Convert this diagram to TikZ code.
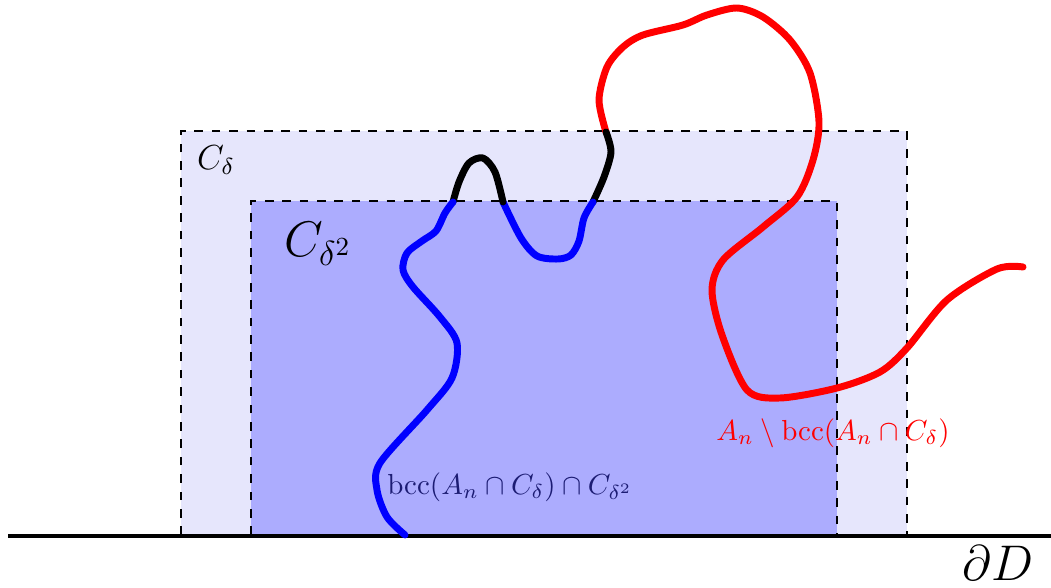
\documentclass[tikz,border=0pt]{standalone}
\usepackage{amsmath,amssymb,xcolor}
\usepackage{tikz}
\usetikzlibrary{positioning,calc}
\definecolor{boxout}{RGB}{230,230,252}
\definecolor{boxin}{RGB}{172,172,254}
\definecolor{lblnavy}{RGB}{28,28,115}

\begin{document}
\begin{tikzpicture}[x=0.345pt, y=-0.345pt,
  rbox/.style={dashed, line width=0.9pt, draw=black},
  curve/.style={line width=2.4pt, line cap=round, line join=round},
  lbl/.style={inner sep=1pt}
]
\useasboundingbox (0,0) rectangle (1051,588);

% Regions
\filldraw[rbox, fill=boxout] (181,535) -- (181,131) -- (907,131) -- (907,535);
\filldraw[rbox, fill=boxin]  (251,535) -- (251,201) -- (837,201) -- (837,535);

% Boundary
\draw[line width=1.4pt] (8,536) -- (1051,536);

% Junctions
\coordinate (jr) at (606,132);
\coordinate (ja) at (593,202);
\coordinate (jb) at (503,202);
\coordinate (jc) at (453,202);
\coordinate (jd) at (405,535);

% Curve pieces
\draw[curve, red] plot[smooth] coordinates {(1023,267) (997,269) (947,300) (907,348) (880,372) (837,388) (780,398) (747,390) (722,335) (712,290) (723,260) (763,227) (797,197) (813,160) (819,122) (810,73) (790,40) (763,17) (737,8) (707,15) (683,25) (643,35) (623,47) (607,67) (599,100) (jr)};
\draw[curve, black] plot[smooth] coordinates {(jr) (611,152) (604,177) (ja)};
\draw[curve, blue] plot[smooth] coordinates {(ja) (584,218) (579,241) (571,255) (558,259) (537,256) (521,238) (jb)};
\draw[curve, black] plot[smooth] coordinates {(jb) (495,172) (483,158) (469,163) (459,182) (jc)};
\draw[curve, blue] plot[smooth] coordinates {(jc) (445,213) (436,231) (422,241) (407,253) (403,270) (413,287) (440,317) (457,343) (452,378) (427,410) (380,463) (377,490) (387,517) (jd)};

% Labels
\node[lbl, font=\large] (cd) at (216,160) {$C_\delta$};
\node[lbl, font=\fontsize{18.5}{22}\selectfont] (cdd) at (318,244) {$C_{\delta^2}$};
\node[lbl, font=\fontsize{18.5}{22}\selectfont] (bd) at (998,563) {$\partial D$};
\node[lbl, text=lblnavy] (lin) at (510,487) {$\mathrm{bcc}(A_n\cap C_\delta)\cap C_{\delta^2}$};
\node[lbl, text=red] (lout) at (833,433) {$A_n\setminus\mathrm{bcc}(A_n\cap C_\delta)$};
\end{tikzpicture}
\end{document}
